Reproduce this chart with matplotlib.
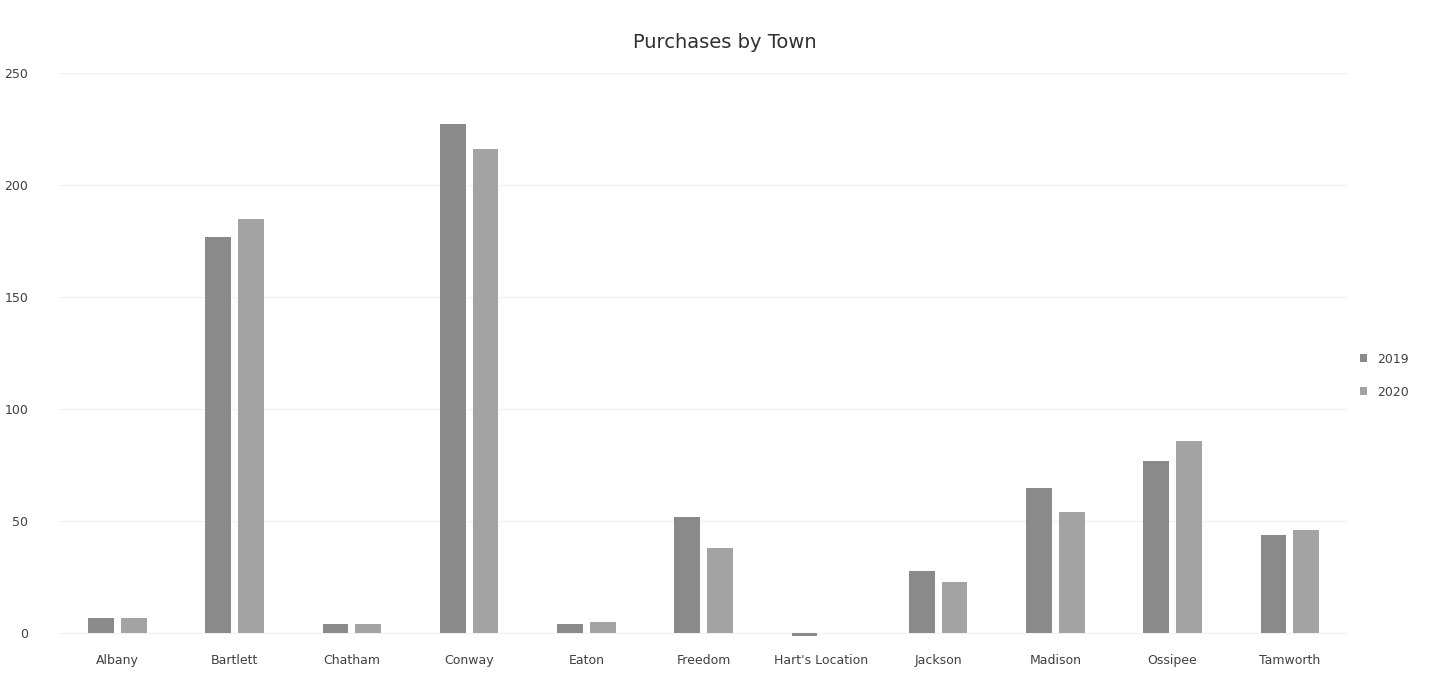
import matplotlib
matplotlib.use('Agg')
import matplotlib.pyplot as plt
import numpy as np

towns = ['Albany', 'Bartlett', 'Chatham', 'Conway', 'Eaton', 'Freedom',
         "Hart's Location", 'Jackson', 'Madison', 'Ossipee', 'Tamworth']
purchases_2019 = [7, 177, 4, 227, 4, 52, -1, 28, 65, 77, 44]
purchases_2020 = [7, 185, 4, 216, 5, 38, 0, 23, 54, 86, 46]
years = ['2019', '2020']

fig = plt.figure(figsize=(14.33, 6.81), dpi=100)
ax = fig.add_axes([0.041, 0.060, 0.900, 0.833])

x = np.arange(len(towns))
w = 0.22
ax.bar(x - 0.14, purchases_2019, w, color='#8a8a8a', label=years[0])
ax.bar(x + 0.14, purchases_2020, w, color='#a3a3a3', label=years[1])

ax.set_xlim(-0.5, len(towns) - 0.5)
ax.set_ylim(-3, 250)
ax.set_yticks(range(0, 251, 50))
ax.set_xticks(x)
ax.set_xticklabels(towns)
ax.tick_params(axis='both', length=0, labelsize=9, colors='#404040')
ax.tick_params(axis='y', pad=22)
ax.tick_params(axis='x', pad=10)
ax.grid(axis='y', color='#f2f2f2', linewidth=1)
ax.set_axisbelow(True)
for s in ax.spines.values():
    s.set_visible(False)

fig.text(0.506, 0.938, 'Purchases by Town', fontsize=14, color='#303030',
         ha='center', va='center')
ax.legend(loc='center left', bbox_to_anchor=(1.0, 0.466), frameon=False,
          fontsize=9, handlelength=0.6, handleheight=0.6, labelspacing=1.6,
          labelcolor='#404040')

fig.savefig('out.png', dpi=100)
